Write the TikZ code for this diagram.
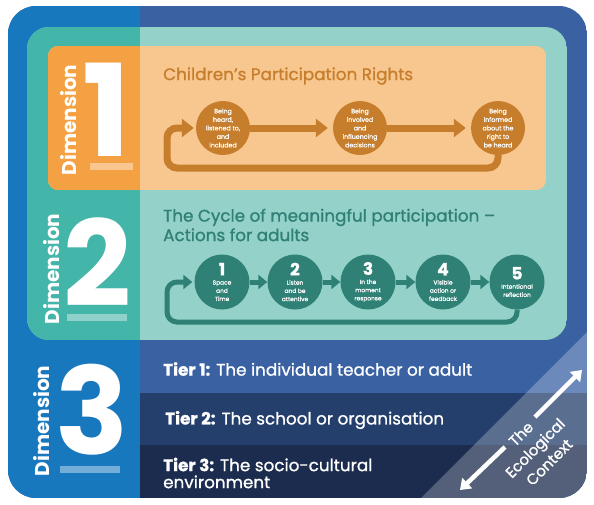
\documentclass[tikz,border=0pt]{standalone}
\usepackage{fontspec}
\setmainfont{Poppins}
\newfontfamily\medfont{Poppins}[FakeBold=1]
\usetikzlibrary{arrows.meta}

\definecolor{outerBlue}{HTML}{1878BE}
\definecolor{deepBlue}{HTML}{3A62A3}
\definecolor{tealDark}{HTML}{43B5A9}
\definecolor{tealLight}{HTML}{93D1C9}
\definecolor{orangeDark}{HTML}{F4A143}
\definecolor{orangeLight}{HTML}{F8C78F}
\definecolor{rightsBrown}{HTML}{C67E2C}
\definecolor{cycleTeal}{HTML}{2F8075}
\definecolor{tierTwo}{HTML}{243F6B}
\definecolor{tierThree}{HTML}{1C2C4E}

\tikzset{
    dimword/.style={rotate=90, text=white, inner sep=0, font=\bfseries\fontsize{20}{20}\selectfont},
    dimnum/.style={text=white, inner sep=0},
    title/.style={anchor=west, inner sep=0, align=left, font=\medfont\fontsize{16.8}{19.5}\selectfont},
    rightsdot/.style={circle, fill=rightsBrown, minimum size=54pt, inner sep=0, text=white,
        align=center, font=\medfont\fontsize{6.3}{8.5}\selectfont},
    cycledot/.style={circle, fill=cycleTeal, minimum size=55pt, inner sep=0, text=white,
        align=center, font=\medfont\fontsize{5.9}{8.2}\selectfont},
    rightsarrow/.style={draw=rightsBrown, line width=7pt, -{Triangle[length=12pt,width=18pt]}},
    cyclearrow/.style={draw=cycleTeal, line width=5pt, -{Triangle[length=9pt,width=14pt]}},
    tiertext/.style={anchor=west, inner sep=0, text=white, align=left, font=\medfont\fontsize{16.8}{17}\selectfont},
    ecotext/.style={rotate=45, inner sep=0, text=white, align=center, font=\medfont\fontsize{15}{20}\selectfont},
    ecoarrow/.style={draw=white, line width=4.5pt, -{Triangle[length=10pt,width=14pt]}}
}

% panel with a darker left strip
\newcommand{\drawPanel}[7]{
    \begin{scope}
        \clip[rounded corners=#5] (#1,#2) rectangle (#3,#4);
        \fill[#7] (#1,#2) rectangle (#3,#4);
        \fill[#6] (#1,#2) rectangle (140,#4);
    \end{scope}
}
% number, word x, word y, numeral x, numeral y, bar from, bar to, bar y, numeral size
\newcommand{\drawDimension}[9]{
    \node[dimword] (word#1) at (#2,#3) {Dimension};
    \node[dimnum, font=\bfseries\fontsize{#9}{#9}\selectfont] (num#1) at (#4,#5) {#1};
    \fill[white, opacity=.4] (#6,#8-3.5) rectangle (#7,#8+3.5);
}
% name, x, number, text
\newcommand{\cycleStep}[4]{
    \node[cycledot] (#1) at (#2,282) {{\bfseries\fontsize{17}{17}\selectfont #3}\\[1pt]#4};
}

\begin{document}
\begin{tikzpicture}[x=1pt,y=-1pt]
\useasboundingbox (0,0) rectangle (594,504);

% Dimension 3 frame and its tiers
\begin{scope}
    \clip[rounded corners=28] (8,6) rectangle (587,498);
    \fill[deepBlue] (8,6) rectangle (587,498);
    \fill[outerBlue] (8,6) rectangle (140,498);
    \fill[tierTwo] (140,393) rectangle (587,445);
    \fill[tierThree] (140,445) rectangle (587,498);
    \fill[white, opacity=.25] (421,498) -- (587,332) -- (587,498) -- cycle;
\end{scope}

% Dimension 2 and Dimension 1 panels
\drawPanel{27}{27}{567}{340}{22}{tealDark}{tealLight}
\drawPanel{48}{46}{546}{190}{10}{orangeDark}{orangeLight}

\drawDimension{1}{69}{120}{107}{110}{90}{133}{166}{128}
\drawDimension{2}{52}{269}{97}{262}{67}{127}{317}{119}
\drawDimension{3}{42}{421}{92}{410}{60}{120}{469}{121}

% Children's participation rights
\node[title, text=rightsBrown] (rightsTitle) at (163,76) {Children’s Participation Rights};
\node[rightsdot] (right1) at (223,128) {Being\\heard,\\listened to,\\and\\included};
\node[rightsdot] (right2) at (360,128) {Being\\involved\\and\\influencing\\decisions};
\node[rightsdot] (right3) at (498,128) {Being\\informed\\about the\\right to\\be heard};
\draw[rightsarrow, shorten >=5pt] (right1) -- (right2);
\draw[rightsarrow, shorten >=5pt] (right2) -- (right3);
\draw[rightsarrow, shorten >=2pt, rounded corners=10] (right3) -- ++(0,40) -| (167,128) -- (right1);

% Cycle of meaningful participation
\node[title, text=cycleTeal] (cycleTitle) at (163,225) {The Cycle of meaningful participation –\\Actions for adults};
\cycleStep{step1}{222}{1}{Space\\and\\Time}
\cycleStep{step2}{295}{2}{Listen\\and be\\attentive}
\cycleStep{step3}{368}{3}{In the\\moment\\response}
\cycleStep{step4}{443}{4}{Visible\\action or\\feedback}
\cycleStep{step5}{517}{5}{Intentional\\reflection}
\foreach \a/\b in {step1/step2, step2/step3, step3/step4, step4/step5}
    \draw[cyclearrow] (\a) -- (\b);
\draw[cyclearrow, shorten >=2pt, rounded corners=10] (step5) -- ++(0,40) -| (167,282) -- (step1);

% Tiers
\node[tiertext] (tier1) at (163,369) {\textbf{Tier 1:} The individual teacher or adult};
\node[tiertext] (tier2) at (165,420) {\textbf{Tier 2:} The school or organisation};
\node[tiertext] (tier3) at (163,473) {\textbf{Tier 3:} The socio-cultural\\environment};

% The ecological context
\node[ecotext] (eco) at (535,448) {The\\Ecological\\Context};
\coordinate (ecoLow) at (460,490);
\coordinate (ecoLowGap) at (505,447);
\coordinate (ecoHighGap) at (535,417);
\coordinate (ecoHigh) at (582,370);
\draw[ecoarrow] (ecoLowGap) -- (ecoLow);
\draw[ecoarrow] (ecoHighGap) -- (ecoHigh);

\end{tikzpicture}
\end{document}
